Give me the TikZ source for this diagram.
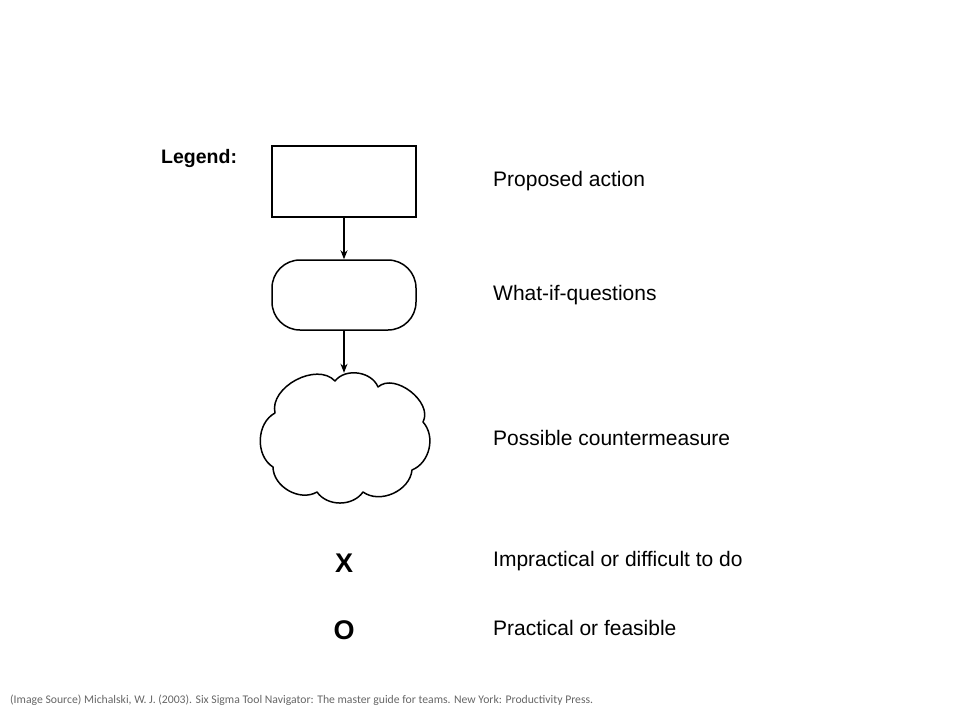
\documentclass[tikz,border=0pt]{standalone}
\usepackage{fontspec}
\setmainfont{Liberation Sans}
\newfontfamily\capfont{Carlito}
\newfontfamily\labfont{Liberation Sans}
\usetikzlibrary{arrows.meta}
\begin{document}
\begin{tikzpicture}[x=1pt,y=-1pt,
  box/.style={draw,line width=1.5pt,inner sep=0pt},
  conn/.style={line width=1.3pt,-{Stealth[length=9pt,width=7pt]}},
  lab/.style={anchor=west,font=\labfont\fontsize{21}{25}\selectfont,inner sep=0pt},
  symb/.style={font=\labfont\bfseries\fontsize{27}{31}\selectfont,inner sep=0pt},
  cloudline/.style={line width=1.5pt,line join=round}]
\useasboundingbox (0,0) rectangle (960,720);
\node[box,minimum width=144pt,minimum height=71pt] (act) at (344,181.5) {};
\node[box,rounded corners=28pt,minimum width=144pt,minimum height=70pt] (wif) at (344,295) {};
\node[inner sep=0pt,minimum width=176pt,minimum height=130pt] (cm) at (344,438) {};
\draw[cloudline] (275,413) to[bend left=75] (335,381) to[bend left=60] (378,387)
  to[bend left=80] (423,422) to[bend left=55] (412,470) to[bend left=60] (363,492)
  to[bend left=55] (317,492) to[bend left=60] (273,467) to[bend left=60] cycle;
\draw[conn] (act.south) -- (wif.north);
\draw[conn] (wif.south) -- (cm.north);
\node[anchor=west,inner sep=0pt,font=\labfont\bfseries\fontsize{19.5}{23}\selectfont] (leg) at (161,158) {Legend:};
\node[lab] (t1) at (493,181) {Proposed action};
\node[lab] (t2) at (493,295) {What-if-questions};
\node[lab] (t3) at (493,438) {Possible countermeasure};
\node[symb] (mx) at (344,563) {X};
\node[lab] (t4) at (493,561) {Impractical or difficult to do};
\node[symb] (mo) at (344,630) {O};
\node[lab] (t5) at (493,628) {Practical or feasible};
\node[anchor=west,inner sep=0pt,text=black!60,font=\capfont\fontsize{11.7}{13}\selectfont] (src) at (10,700) {(Image Source) Michalski, W. J. (2003). Six Sigma Tool Navigator: The  master guide for teams. New York:  Productivity Press.};
\end{tikzpicture}
\end{document}
